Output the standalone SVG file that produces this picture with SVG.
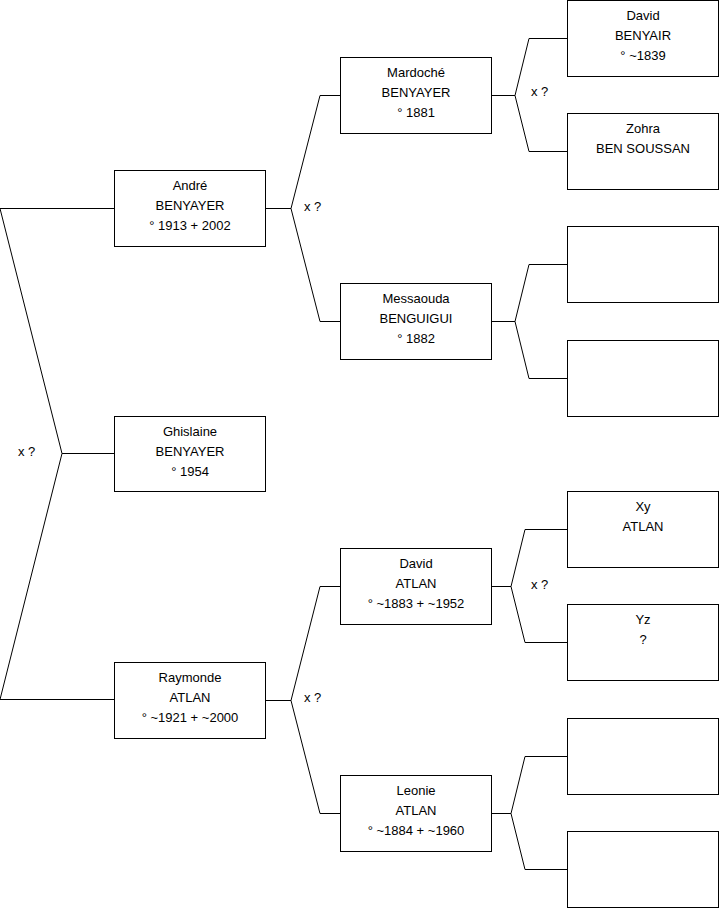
<svg xmlns="http://www.w3.org/2000/svg" width="719" height="908" viewBox="0 0 719 908">
<style>
.box{fill:#fff;stroke:#000;stroke-width:1}
.ln{fill:none;stroke:#000;stroke-width:1}
text{font-family:"Liberation Sans",Arial,sans-serif;font-size:13px;fill:#000}
.c{text-anchor:middle}
</style>
<rect width="719" height="908" fill="#fff"/>
<g id="connectors">
<path class="ln" d="M0,208.5 H114.5 M0,208.5 L62,453.5 L0,699.5 H114.5 M62,453.5 H114.5"/>
<path class="ln" d="M265.5,208.5 H291 L320,95.5 H340.5 M291,208.5 L320,321.5 H340.5"/>
<path class="ln" d="M491.5,95.5 H515 L529,38.5 H567.5 M515,95.5 L529,151.5 H567.5"/>
<path class="ln" d="M491.5,321.5 H515 L529,264.5 H567.5 M515,321.5 L529,378.5 H567.5"/>
<path class="ln" d="M265.5,700.5 H291 L320,586.5 H340.5 M291,700.5 L320,813.5 H340.5"/>
<path class="ln" d="M491.5,586.5 H511 L525,529.5 H567.5 M511,586.5 L525,642.5 H567.5"/>
<path class="ln" d="M491.5,813.5 H511 L525,756.5 H567.5 M511,813.5 L525,869.5 H567.5"/>
<text x="18" y="456">x ?</text>
<text x="304" y="211">x ?</text>
<text x="531" y="96">x ?</text>
<text x="304" y="702">x ?</text>
<text x="531" y="589">x ?</text>
</g>
<g id="andre"><rect class="box" x="114.5" y="170.5" width="151" height="76"/>
<text class="c" x="190" y="190">André</text><text class="c" x="190" y="210">BENYAYER</text><text class="c" x="190" y="230">° 1913 + 2002</text></g>
<g id="ghislaine"><rect class="box" x="114.5" y="416.5" width="151" height="75"/>
<text class="c" x="190" y="436">Ghislaine</text><text class="c" x="190" y="456">BENYAYER</text><text class="c" x="190" y="476">° 1954</text></g>
<g id="raymonde"><rect class="box" x="114.5" y="662.5" width="151" height="76"/>
<text class="c" x="190" y="682">Raymonde</text><text class="c" x="190" y="702">ATLAN</text><text class="c" x="190" y="722">° ~1921 + ~2000</text></g>
<g id="mardoche"><rect class="box" x="340.5" y="57.5" width="151" height="76"/>
<text class="c" x="416" y="77">Mardoché</text><text class="c" x="416" y="97">BENYAYER</text><text class="c" x="416" y="117">° 1881</text></g>
<g id="messaouda"><rect class="box" x="340.5" y="283.5" width="151" height="76"/>
<text class="c" x="416" y="303">Messaouda</text><text class="c" x="416" y="323">BENGUIGUI</text><text class="c" x="416" y="343">° 1882</text></g>
<g id="david-atlan"><rect class="box" x="340.5" y="548.5" width="151" height="76"/>
<text class="c" x="416" y="568">David</text><text class="c" x="416" y="588">ATLAN</text><text class="c" x="416" y="608">° ~1883 + ~1952</text></g>
<g id="leonie"><rect class="box" x="340.5" y="775.5" width="151" height="76"/>
<text class="c" x="416" y="795">Leonie</text><text class="c" x="416" y="815">ATLAN</text><text class="c" x="416" y="835">° ~1884 + ~1960</text></g>
<g id="david-benyair"><rect class="box" x="567.5" y="0.5" width="151" height="76"/>
<text class="c" x="643" y="20">David</text><text class="c" x="643" y="40">BENYAIR</text><text class="c" x="643" y="60">° ~1839</text></g>
<g id="zohra"><rect class="box" x="567.5" y="113.5" width="151" height="76"/>
<text class="c" x="643" y="133">Zohra</text><text class="c" x="643" y="153">BEN SOUSSAN</text></g>
<g id="empty1"><rect class="box" x="567.5" y="226.5" width="151" height="76"/></g>
<g id="empty2"><rect class="box" x="567.5" y="340.5" width="151" height="76"/></g>
<g id="xy"><rect class="box" x="567.5" y="491.5" width="151" height="76"/>
<text class="c" x="643" y="511">Xy</text><text class="c" x="643" y="531">ATLAN</text></g>
<g id="yz"><rect class="box" x="567.5" y="604.5" width="151" height="76"/>
<text class="c" x="643" y="624">Yz</text><text class="c" x="643" y="644">?</text></g>
<g id="empty3"><rect class="box" x="567.5" y="718.5" width="151" height="76"/></g>
<g id="empty4"><rect class="box" x="567.5" y="831.5" width="151" height="76"/></g>
</svg>
